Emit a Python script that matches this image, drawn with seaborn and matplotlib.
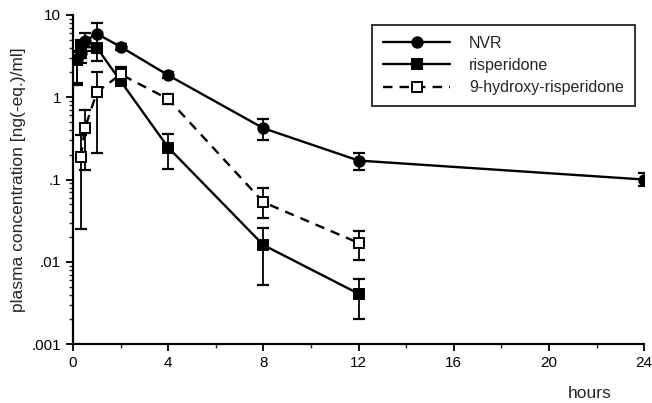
import numpy as np
import pandas as pd
import matplotlib
matplotlib.use("Agg")
import matplotlib.pyplot as plt
import seaborn as sns
from matplotlib.ticker import FixedLocator, LogLocator, NullFormatter

# NVR
nvr_t = [0.17, 0.33, 0.5, 1, 2, 4, 8, 12, 24]
nvr_v = [2.9, 3.4, 4.8, 5.9, 4.1, 1.85, 0.42, 0.17, 0.1]
nvr_lo = [1.5, 2.6, 3.6, 4.3, 3.8, 1.7, 0.3, 0.13, 0.083]
nvr_hi = [3.6, 4.2, 6.0, 8.0, 4.4, 2.0, 0.55, 0.21, 0.12]

# risperidone
ris_t = [0.17, 0.33, 1, 2, 4, 8, 12]
ris_v = [2.8, 4.1, 4.0, 1.57, 0.245, 0.016, 0.0041]
ris_lo = [1.4, 3.0, 2.75, 1.4, 0.135, 0.0052, 0.002]
ris_hi = [3.5, 5.0, 5.6, 1.75, 0.36, 0.026, 0.0062]

# 9-hydroxy-risperidone
oh_t = [0.33, 0.5, 1, 2, 4, 8, 12]
oh_v = [0.19, 0.42, 1.15, 1.9, 0.95, 0.053, 0.017]
oh_lo = [0.025, 0.13, 0.21, 1.6, 0.82, 0.034, 0.0105]
oh_hi = [0.35, 0.69, 2.0, 2.3, 1.1, 0.08, 0.024]

sns.set_style("ticks")
plt.rcParams['font.family'] = ['Liberation Sans', 'DejaVu Sans']

fig = plt.figure(figsize=(6.52, 4.03), dpi=100)
ax = fig.add_axes([0.112, 0.146, 0.876, 0.817])

series = [
    ("NVR", nvr_t, nvr_v, nvr_lo, nvr_hi, "o", "black", "-"),
    ("risperidone", ris_t, ris_v, ris_lo, ris_hi, "s", "black", "-"),
    ("9-hydroxy-risperidone", oh_t, oh_v, oh_lo, oh_hi, "s", "white", (0, (4, 3))),
]

for name, t, v, lo, hi, mk, fc, ls in series:
    df = pd.DataFrame({"hours": t, "conc": v})
    v = np.array(v)
    yerr = [v - np.array(lo), np.array(hi) - v]
    ax.errorbar(t, v, yerr=yerr, fmt="none", ecolor="black", elinewidth=1.3,
                capsize=4, capthick=1.6, zorder=2)
    sns.lineplot(data=df, x="hours", y="conc", ax=ax, color="black",
                 linestyle=ls, linewidth=1.7, marker=mk, markersize=7.5,
                 markerfacecolor=fc, markeredgecolor="black",
                 markeredgewidth=1.4, label=name, zorder=3)

ax.set_yscale("log")
ax.set_ylim(0.001, 10)
ax.set_xlim(0, 24)
ax.yaxis.set_major_locator(FixedLocator([0.001, 0.01, 0.1, 1, 10]))
ax.set_yticklabels([".001", ".01", ".1", "1", "10"])
ax.yaxis.set_minor_locator(LogLocator(base=10, subs=np.arange(2, 10)))
ax.yaxis.set_minor_formatter(NullFormatter())
ax.set_xticks([0, 4, 8, 12, 16, 20, 24])
ax.set_xticks([2, 6, 10, 14, 18, 22], minor=True)

ax.tick_params(axis="both", which="major", direction="out", length=5,
               width=1.3, labelsize=11, colors="black")
ax.tick_params(axis="both", which="minor", direction="out", length=3,
               width=1.0)
for s in ["left", "bottom"]:
    ax.spines[s].set_linewidth(1.6)
    ax.spines[s].set_color("black")
sns.despine(ax=ax)

ax.set_xlabel("")
ax.set_ylabel("plasma concentration [ng(-eq.)/ml]", fontsize=12.5)
fig.text(0.905, 0.012, "hours", fontsize=12.5, ha="center")

leg = ax.legend(loc="upper right", bbox_to_anchor=(0.99, 0.98),
                frameon=True, fancybox=False, fontsize=11.5,
                handlelength=4.2, borderpad=0.7, labelspacing=0.45,
                handletextpad=1.2, borderaxespad=0.2)
leg.get_frame().set_edgecolor("black")
leg.get_frame().set_linewidth(1.4)

fig.savefig("out.png", dpi=100)
